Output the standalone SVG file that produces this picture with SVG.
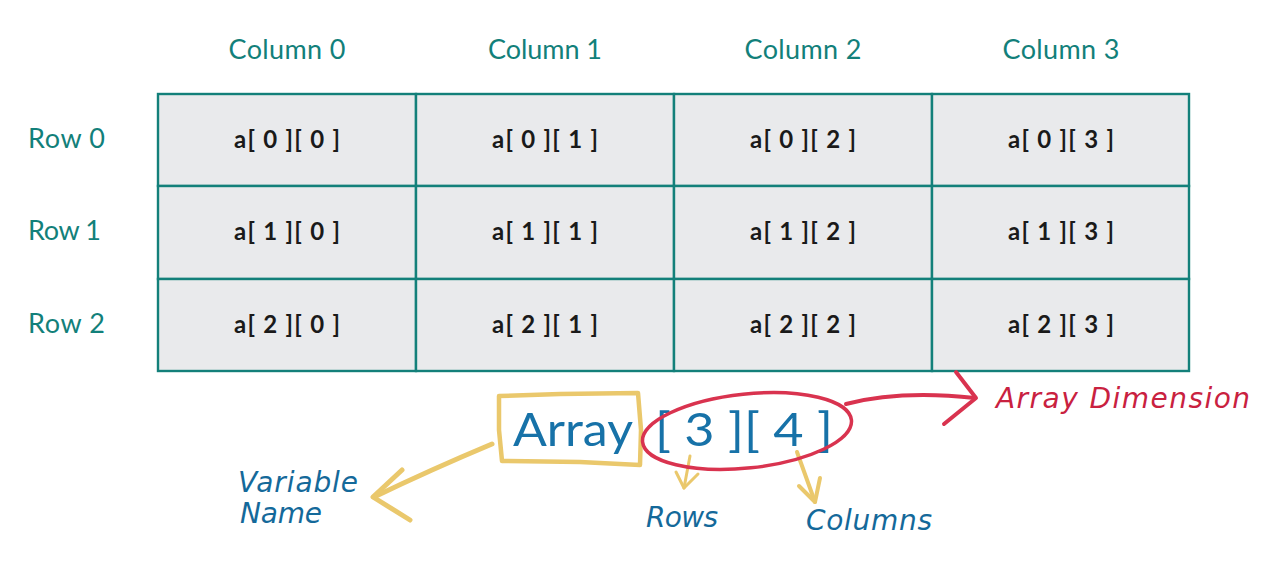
<svg xmlns="http://www.w3.org/2000/svg" width="1280" height="576" viewBox="0 0 1280 576">
<style>
.hdr{font-family:Lato,"Open Sans","Liberation Sans",sans-serif;font-size:27px;fill:#12807a;}
.cell rect{fill:#e9eaec;stroke:#13807a;stroke-width:2.4;}
.cell text{font-family:Lato,"Liberation Sans",sans-serif;font-weight:bold;font-size:24px;fill:#1a1a1a;text-anchor:middle;}
.hand{font-family:"DejaVu Sans",sans-serif;font-style:italic;font-size:28px;}
.blue{fill:#14699a;}
.red{fill:#c9213f;}
.ystroke{fill:none;stroke:#eac86c;stroke-linecap:round;stroke-linejoin:round;}
.rstroke{fill:none;stroke:#d9334f;stroke-linecap:round;stroke-linejoin:round;}
</style>
<rect width="1280" height="576" fill="#ffffff"/>
<g id="headers" class="hdr" text-anchor="middle">
<text x="287" y="59" textLength="117">Column 0</text>
<text x="545" y="59" textLength="114">Column 1</text>
<text x="803" y="59" textLength="117">Column 2</text>
<text x="1061" y="59" textLength="117">Column 3</text>
</g>
<g id="rowlabels" class="hdr">
<text x="28" y="148" textLength="77">Row 0</text>
<text x="28" y="240" textLength="73">Row 1</text>
<text x="28" y="333" textLength="77">Row 2</text>
</g>
<g id="c00" class="cell"><rect x="158" y="94" width="258" height="92"/><text x="287" y="148" textLength="106">a[ 0 ][ 0 ]</text></g>
<g id="c01" class="cell"><rect x="416" y="94" width="258" height="92"/><text x="545" y="148" textLength="106">a[ 0 ][ 1 ]</text></g>
<g id="c02" class="cell"><rect x="674" y="94" width="258" height="92"/><text x="803" y="148" textLength="106">a[ 0 ][ 2 ]</text></g>
<g id="c03" class="cell"><rect x="932" y="94" width="257" height="92"/><text x="1061" y="148" textLength="106">a[ 0 ][ 3 ]</text></g>
<g id="c10" class="cell"><rect x="158" y="186" width="258" height="93"/><text x="287" y="240" textLength="106">a[ 1 ][ 0 ]</text></g>
<g id="c11" class="cell"><rect x="416" y="186" width="258" height="93"/><text x="545" y="240" textLength="106">a[ 1 ][ 1 ]</text></g>
<g id="c12" class="cell"><rect x="674" y="186" width="258" height="93"/><text x="803" y="240" textLength="106">a[ 1 ][ 2 ]</text></g>
<g id="c13" class="cell"><rect x="932" y="186" width="257" height="93"/><text x="1061" y="240" textLength="106">a[ 1 ][ 3 ]</text></g>
<g id="c20" class="cell"><rect x="158" y="279" width="258" height="92"/><text x="287" y="333" textLength="106">a[ 2 ][ 0 ]</text></g>
<g id="c21" class="cell"><rect x="416" y="279" width="258" height="92"/><text x="545" y="333" textLength="106">a[ 2 ][ 1 ]</text></g>
<g id="c22" class="cell"><rect x="674" y="279" width="258" height="92"/><text x="803" y="333" textLength="106">a[ 2 ][ 2 ]</text></g>
<g id="c23" class="cell"><rect x="932" y="279" width="257" height="92"/><text x="1061" y="333" textLength="106">a[ 2 ][ 3 ]</text></g>

<g id="decl">
<text x="513" y="446" font-family="Lato,'Liberation Sans',sans-serif" font-size="46" fill="#1772a8" textLength="120" lengthAdjust="spacingAndGlyphs">Array</text>
<text x="655" y="446" font-family="Lato,'Liberation Sans',sans-serif" font-size="46" fill="#1772a8" xml:space="preserve" textLength="178" lengthAdjust="spacingAndGlyphs">[ 3 ][ 4 ]</text>
</g>

<g id="connectors">
<path class="ystroke" stroke-width="4.5" d="M499 396 L560 394 L638 393 L641 430 L640 465 L580 462 L502 461 L499 430 Z"/>
<path class="ystroke" stroke-width="5" d="M492 444 Q430 470 374 497"/>
<path class="ystroke" stroke-width="5" d="M402 470 L373 497 L410 520"/>
<path class="ystroke" stroke-width="3" d="M690 456 L684 488"/>
<path class="ystroke" stroke-width="3" d="M676 472 L684 488 L698 474"/>
<path class="ystroke" stroke-width="4" d="M797 452 L815 502"/>
<path class="ystroke" stroke-width="4" d="M799 486 L815 502 L820 478"/>
<ellipse class="rstroke" stroke-width="3.5" cx="747" cy="431" rx="105" ry="37" transform="rotate(-6 747 431)"/>
<path class="rstroke" stroke-width="4" d="M846 404 Q900 390 975 398"/>
<path class="rstroke" stroke-width="4" d="M956 372 L976 398 L944 424"/>
</g>

<g id="labels">
<text class="hand red" x="996" y="408" textLength="254">Array Dimension</text>
<text class="hand blue" x="238" y="492" textLength="120">Variable</text>
<text class="hand blue" x="240" y="523" textLength="82">Name</text>
<text class="hand blue" x="646" y="527" textLength="72">Rows</text>
<text class="hand blue" x="806" y="530" textLength="126">Columns</text>
</g>
</svg>
